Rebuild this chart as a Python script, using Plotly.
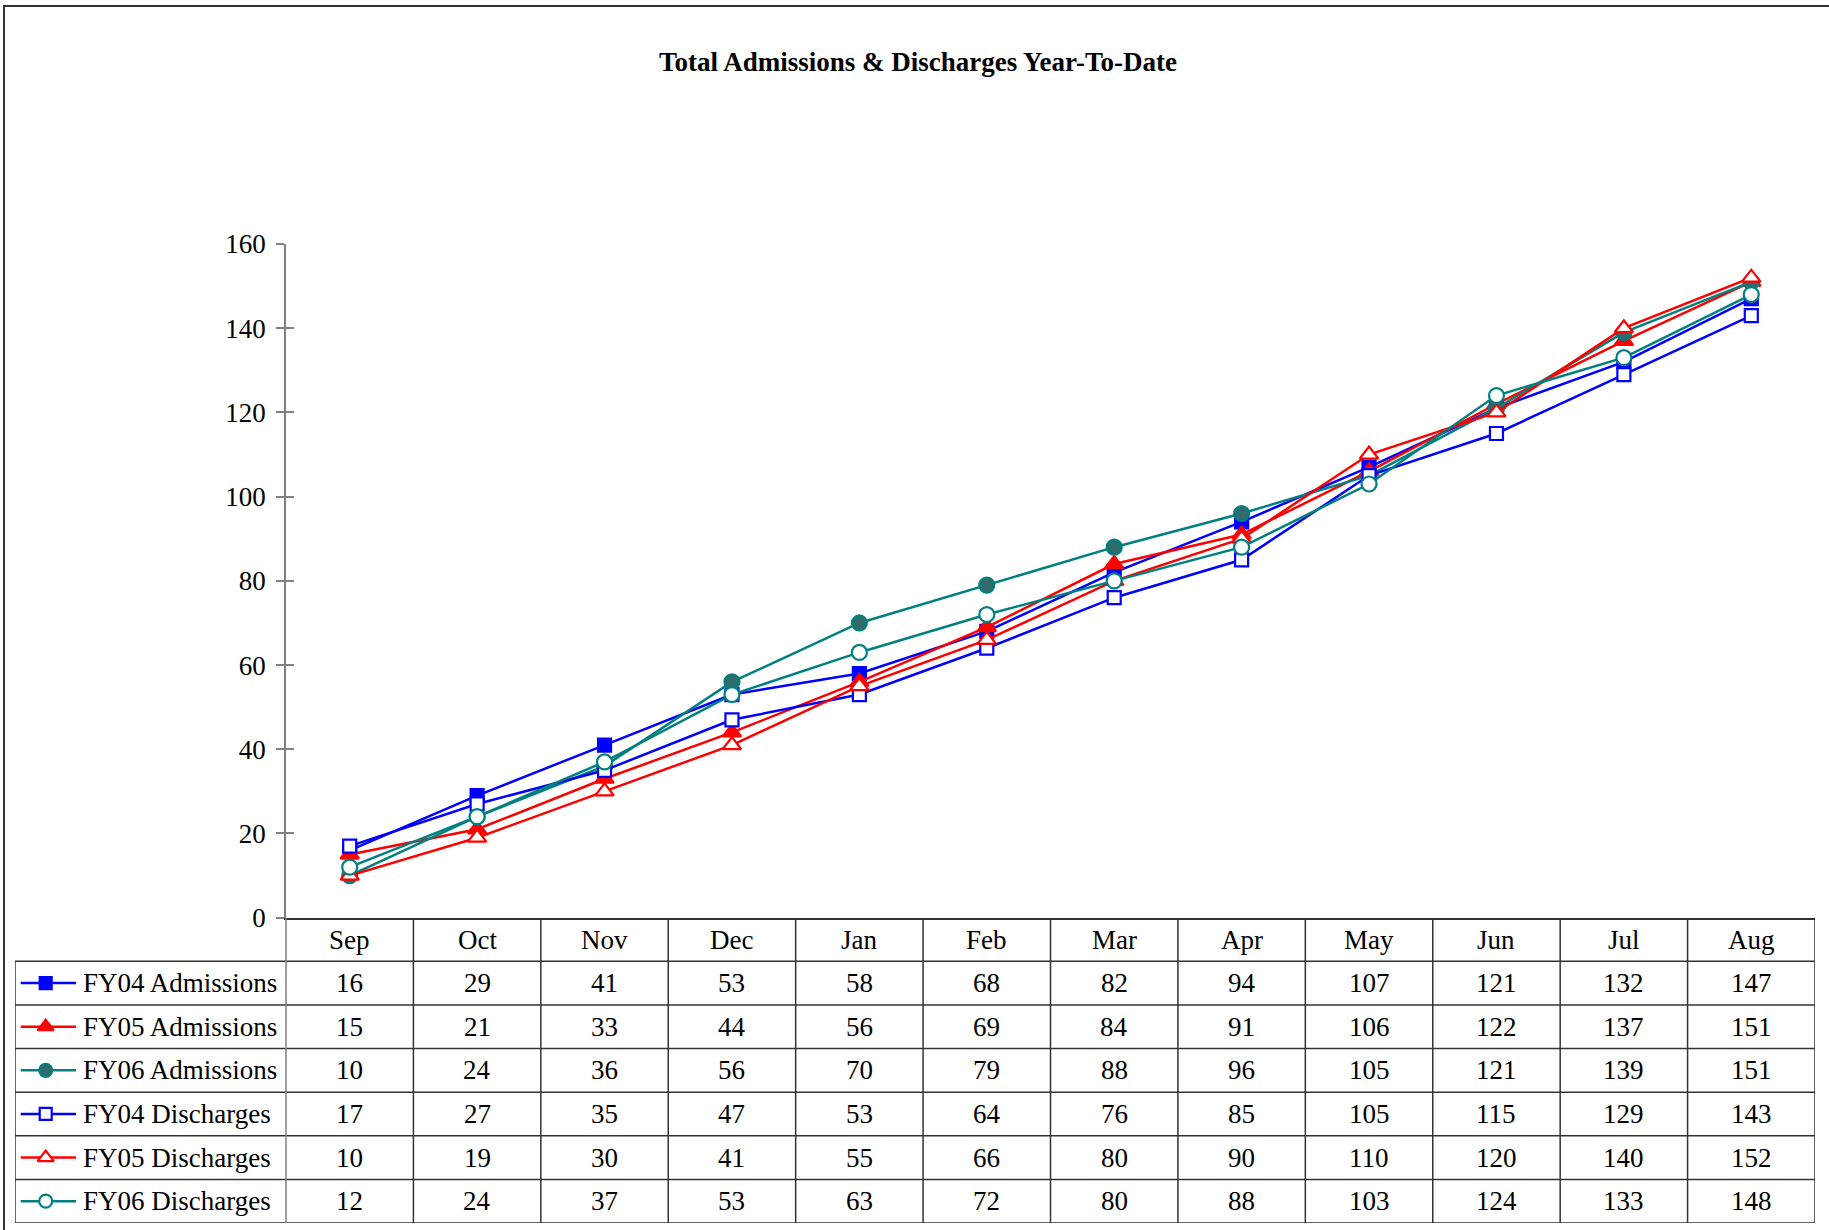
import plotly.graph_objects as go

# ---------------- data ----------------
months = ["Sep", "Oct", "Nov", "Dec", "Jan", "Feb", "Mar", "Apr", "May", "Jun", "Jul", "Aug"]
series_names = ["FY04 Admissions", "FY05 Admissions", "FY06 Admissions",
                "FY04 Discharges", "FY05 Discharges", "FY06 Discharges"]
fy04_adm = [16, 29, 41, 53, 58, 68, 82, 94, 107, 121, 132, 147]
fy05_adm = [15, 21, 33, 44, 56, 69, 84, 91, 106, 122, 137, 151]
fy06_adm = [10, 24, 36, 56, 70, 79, 88, 96, 105, 121, 139, 151]
fy04_dis = [17, 27, 35, 47, 53, 64, 76, 85, 105, 115, 129, 143]
fy05_dis = [10, 19, 30, 41, 55, 66, 80, 90, 110, 120, 140, 152]
fy06_dis = [12, 24, 37, 53, 63, 72, 80, 88, 103, 124, 133, 148]
y_ticks = [0, 20, 40, 60, 80, 100, 120, 140, 160]
title_text = "Total Admissions & Discharges Year-To-Date"

values = [fy04_adm, fy05_adm, fy06_adm, fy04_dis, fy05_dis, fy06_dis]

# ---------------- styles ----------------
BLUE, RED, TEAL = "#0000FF", "#FF0000", "#008080"
styles = [
    dict(color=BLUE, symbol="square", fill=BLUE, size=13, lsize=12),
    dict(color=RED, symbol="triangle-up", fill=RED, size=16, lsize=14),
    dict(color=TEAL, symbol="circle", fill="#2F6B6B", size=15, lsize=13),
    dict(color=BLUE, symbol="square", fill="white", size=13, lsize=12),
    dict(color=RED, symbol="triangle-up", fill="white", size=16, lsize=14),
    dict(color=TEAL, symbol="circle", fill="white", size=15, lsize=13),
]
FONT = "Liberation Serif, Times New Roman, serif"
FS = 27

W, H = 1829, 1230
# pixel layout
AX_L, AX_R = 286, 1815          # plot / month columns
Y_TOP, Y_BOT = 244, 917.7       # y=160 and y=0
TAB_L, TAB_B = 15, 1223         # table left and bottom
n = len(months)
col_px = (AX_R - AX_L) / n
x2_left = -0.5 - (AX_L - TAB_L) / col_px
n_rows = len(series_names) + 1


def ux(px):
    return x2_left + (px - TAB_L) / col_px


fig = go.Figure()
xs = list(range(n))

# ---- main chart lines ----
for name, vals, st in zip(series_names, values, styles):
    fig.add_trace(go.Scatter(
        x=xs, y=vals, mode="lines+markers", name=name,
        line=dict(color=st["color"], width=2.5),
        marker=dict(symbol=st["symbol"], size=st["size"], color=st["fill"],
                    line=dict(color=st["color"], width=2.2)),
        cliponaxis=False, xaxis="x", yaxis="y", showlegend=False))

# dummy on overlay axis for crossing ticks
fig.add_trace(go.Scatter(x=[None], y=[None], xaxis="x", yaxis="y3", showlegend=False))

# ---- table legend keys ----
for r, st in enumerate(styles):
    yc = r + 1.5
    fig.add_trace(go.Scatter(
        x=[ux(20.7), ux(76)], y=[yc, yc], mode="lines",
        line=dict(color=st["color"], width=2.5),
        xaxis="x2", yaxis="y2", showlegend=False, hoverinfo="skip"))
    fig.add_trace(go.Scatter(
        x=[ux(45.7)], y=[yc], mode="markers",
        marker=dict(symbol=st["symbol"], size=st["lsize"], color=st["fill"],
                    line=dict(color=st["color"], width=2.2)),
        xaxis="x2", yaxis="y2", showlegend=False, hoverinfo="skip"))

annotations = []
# header
for i, m in enumerate(months):
    annotations.append(dict(x=i, y=0.5, xref="x2", yref="y2", text=m, showarrow=False,
                            xanchor="center", yanchor="middle",
                            font=dict(family=FONT, size=FS, color="black")))
# rows
for r, (name, vals) in enumerate(zip(series_names, values)):
    yc = r + 1.5
    annotations.append(dict(x=ux(80.5), y=yc, xref="x2", yref="y2", text=name, showarrow=False,
                            xanchor="left", yanchor="middle",
                            font=dict(family=FONT, size=FS, color="black")))
    for i, v in enumerate(vals):
        annotations.append(dict(x=i, y=yc, xref="x2", yref="y2", text=str(v), showarrow=False,
                                xanchor="center", yanchor="middle",
                                font=dict(family=FONT, size=FS, color="black")))
# title
annotations.append(dict(x=918.5 / W, y=1 - 62 / H, xref="paper", yref="paper",
                        text="<b>" + title_text + "</b>", showarrow=False,
                        xanchor="center", yanchor="middle",
                        font=dict(family=FONT, size=27, color="black")))

shapes = []
LC = "#333333"
# horizontal lines of table
for r in range(1, n_rows + 1):
    shapes.append(dict(type="line", xref="x2", yref="y2", x0=x2_left, x1=n - 0.5,
                       y0=r, y1=r, line=dict(color=LC, width=1.5)))
# vertical lines
for k in range(1, n + 1):
    shapes.append(dict(type="line", xref="x2", yref="y2", x0=k - 0.5, x1=k - 0.5,
                       y0=0, y1=n_rows, line=dict(color=LC, width=1.5)))
shapes.append(dict(type="line", xref="x2", yref="y2", x0=-0.5, x1=-0.5,
                   y0=0, y1=n_rows, line=dict(color="#808080", width=1.5)))
shapes.append(dict(type="line", xref="x2", yref="y2", x0=x2_left, x1=x2_left,
                   y0=1, y1=n_rows, line=dict(color=LC, width=1.5)))
# outer page border
shapes.append(dict(type="rect", xref="paper", yref="paper", x0=4 / W, x1=1.01,
                   y0=-0.01, y1=1 - 6 / H, line=dict(color="#333333", width=2)))

fig.update_layout(
    width=W, height=H, autosize=False,
    margin=dict(l=0, r=0, t=0, b=0, pad=0, autoexpand=False),
    paper_bgcolor="white", plot_bgcolor="rgba(0,0,0,0)",
    showlegend=False,
    xaxis=dict(domain=[AX_L / W, AX_R / W], range=[-0.5, n - 0.5], anchor="y",
               showline=True, linecolor=LC, linewidth=1.5, showticklabels=False,
               ticks="", showgrid=False, zeroline=False, automargin=False),
    yaxis=dict(domain=[1 - Y_BOT / H, 1 - Y_TOP / H], range=[0, 160], anchor="x",
               tickvals=y_ticks, ticks="outside", ticklen=8, tickwidth=1.5, tickcolor="#808080",
               showline=True, linecolor="#808080", linewidth=1.5, showgrid=False, zeroline=False,
               tickfont=dict(family=FONT, size=FS, color="black"), ticklabelstandoff=5,
               automargin=False),
    yaxis3=dict(domain=[1 - Y_BOT / H, 1 - Y_TOP / H], range=[0, 160], anchor="x",
                overlaying="y", tickvals=y_ticks, ticks="inside", ticklen=8, tickwidth=1.5,
                tickcolor="#808080", showticklabels=False, showline=False, showgrid=False,
                zeroline=False, automargin=False),
    xaxis2=dict(domain=[TAB_L / W, AX_R / W], range=[x2_left, n - 0.5], anchor="y2",
                visible=False, automargin=False),
    yaxis2=dict(domain=[1 - TAB_B / H, 1 - Y_BOT / H], range=[n_rows, 0], anchor="x2",
                visible=False, automargin=False),
    annotations=annotations,
    shapes=shapes,
)

fig.write_html("out.html", config={"displayModeBar": False},
               post_script="document.body.style.margin='0';document.body.style.overflow='hidden';")
